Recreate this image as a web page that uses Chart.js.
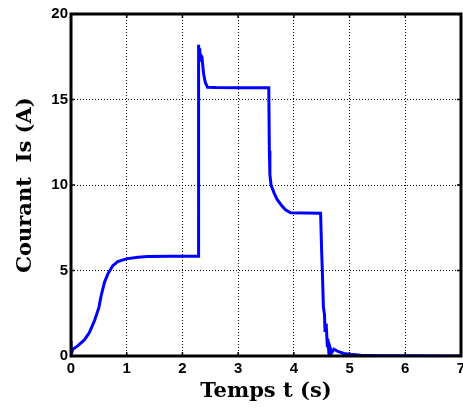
<!DOCTYPE html>
<html>
<head>
<meta charset="utf-8">
<script src="https://cdn.jsdelivr.net/npm/chart.js@4/dist/chart.umd.min.js"></script>
<style>
  html, body { margin: 0; padding: 0; background: #fff; }
  #wrap { width: 463px; height: 408px; }
</style>
</head>
<body>
<div id="wrap"><canvas id="courantChart" width="463" height="408"></canvas></div>
<script>
// temps (s) et courant Is (A)
const timeS = [
  0, 0, 0.03, 0.12, 0.24, 0.33, 0.42, 0.50, 0.54, 0.60, 0.66, 0.75, 0.84, 0.99, 1.20, 1.38, 1.8, 2.28,
  2.29, 2.30, 2.31, 2.32, 2.33, 2.35, 2.38, 2.41, 2.45, 2.6, 3.0, 3.55,
  3.56, 3.57, 3.59, 3.65, 3.70, 3.78, 3.85, 3.94, 4.2, 4.48,
  4.50, 4.51, 4.53, 4.55, 4.56, 4.58, 4.60, 4.61, 4.63, 4.65, 4.68, 4.72,
  4.80, 4.90, 5.0, 5.2, 5.5, 6.0, 7.0
];
const currentA = [
  0.88, 0.02, 0.39, 0.59, 0.94, 1.37, 2.05, 2.83, 3.51, 4.3, 4.79, 5.28, 5.52, 5.68, 5.78, 5.82, 5.84, 5.84,
  18.2, 17.7, 18.0, 17.3, 17.6, 17.5, 16.5, 16.0, 15.72, 15.7, 15.68, 15.68,
  12.0, 10.6, 10.0, 9.5, 9.16, 8.8, 8.55, 8.38, 8.36, 8.35,
  6.0, 5.1, 2.9, 2.4, 1.4, 1.9, 0.6, 1.0, 0.1, 0.5, 0.2, 0.4,
  0.25, 0.15, 0.1, 0.05, 0.02, 0.01, 0
];
const xTicks = [0, 1, 2, 3, 4, 5, 6, 7];
const yTicks = [0, 5, 10, 15, 20];

const PLOT = { left: 71, right: 461, top: 14, bottom: 356 };

// cadre noir + graduations vers l'intérieur (style MATLAB)
const frameBox = {
  id: 'frameBox',
  afterDatasetsDraw(chart) {
    const { ctx, chartArea: a, scales } = chart;
    ctx.save();
    ctx.strokeStyle = '#000';
    ctx.lineWidth = 1.5;
    xTicks.forEach(v => {
      const x = scales.x.getPixelForValue(v);
      ctx.beginPath();
      ctx.moveTo(x, a.bottom); ctx.lineTo(x, a.bottom - 4);
      ctx.moveTo(x, a.top); ctx.lineTo(x, a.top + 4);
      ctx.stroke();
    });
    yTicks.forEach(v => {
      const y = scales.y.getPixelForValue(v);
      ctx.beginPath();
      ctx.moveTo(a.left, y); ctx.lineTo(a.left + 4, y);
      ctx.moveTo(a.right, y); ctx.lineTo(a.right - 4, y);
      ctx.stroke();
    });
    ctx.lineWidth = 3;
    ctx.strokeRect(a.left, a.top, a.right - a.left, a.bottom - a.top);
    ctx.restore();
  }
};

const ctx = document.getElementById('courantChart').getContext('2d');
new Chart(ctx, {
  type: 'scatter',
  data: {
    datasets: [{
      data: timeS.map((t, i) => ({ x: t, y: currentA[i] })),
      showLine: true,
      borderColor: '#0000ff',
      borderWidth: 3,
      pointRadius: 0,
      tension: 0
    }]
  },
  options: {
    responsive: false,
    animation: false,
    layout: { padding: { left: 0, right: 463 - PLOT.right, top: PLOT.top, bottom: 0 } },
    plugins: { legend: { display: false }, tooltip: { enabled: false } },
    scales: {
      x: {
        type: 'linear', min: 0, max: 7,
        afterBuildTicks: s => { s.ticks = xTicks.map(v => ({ value: v })); },
        afterFit: s => {
          s.height = 408 - PLOT.bottom;
          s.paddingLeft = 0;
          s.paddingRight = 0;
        },
        grid: {
          color: c => (c.tick.value === 0 || c.tick.value === 7) ? 'rgba(0,0,0,0)' : '#000',
          lineWidth: 1,
          drawTicks: false
        },
        border: { display: false, dash: [1, 2] },
        ticks: { color: '#000', padding: 4, font: { family: 'Liberation Sans', size: 15, weight: 'bold' } },
        title: {
          display: true, text: 'Temps t (s)', color: '#000',
          padding: { top: 0, bottom: 4 },
          font: { family: 'DejaVu Serif', size: 21, weight: 'bold' }
        }
      },
      y: {
        type: 'linear', min: 0, max: 20,
        afterBuildTicks: s => { s.ticks = yTicks.map(v => ({ value: v })); },
        afterFit: s => {
          s.width = PLOT.left;
          s.paddingTop = 0;
          s.paddingBottom = 0;
        },
        grid: {
          color: c => (c.tick.value === 0 || c.tick.value === 20) ? 'rgba(0,0,0,0)' : '#000',
          lineWidth: 1,
          drawTicks: false
        },
        border: { display: false, dash: [1, 2] },
        ticks: { color: '#000', padding: 3, font: { family: 'Liberation Sans', size: 15, weight: 'bold' } },
        title: {
          display: true, text: 'Courant  Is (A)', color: '#000',
          padding: { top: 13, bottom: 0 },
          font: { family: 'DejaVu Serif', size: 21, weight: 'bold' }
        }
      }
    }
  },
  plugins: [frameBox]
});
</script>
</body>
</html>
